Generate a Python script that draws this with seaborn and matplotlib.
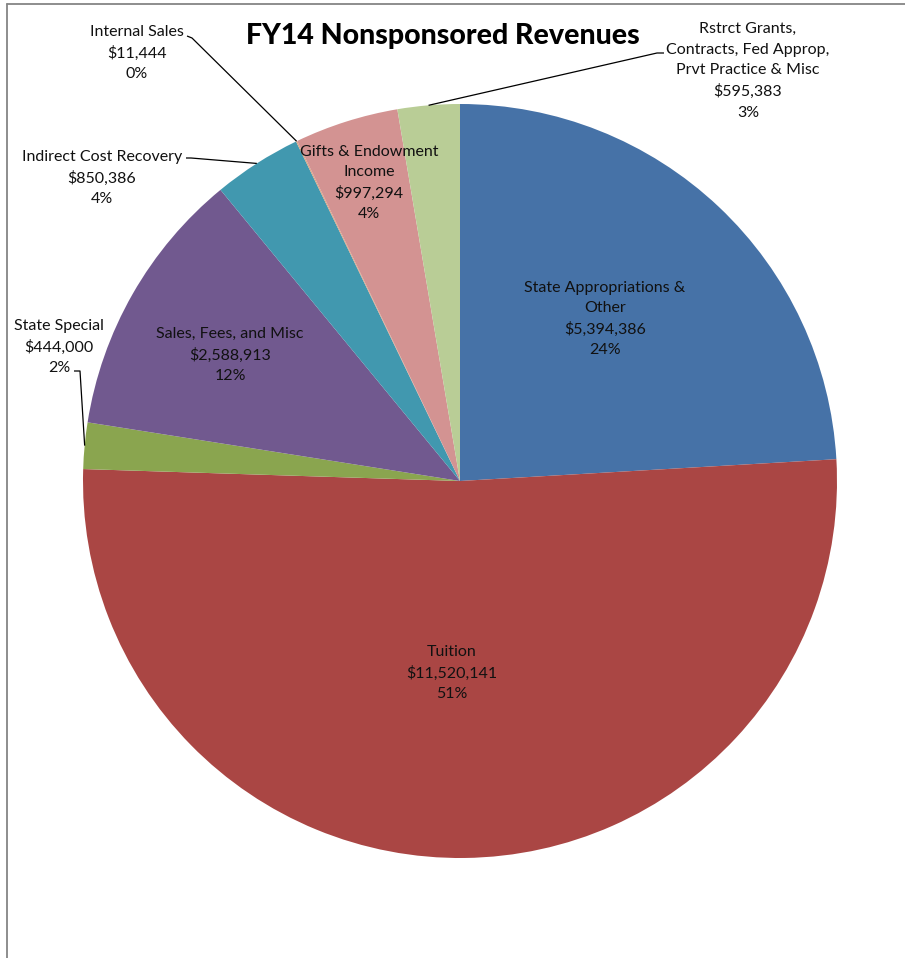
import matplotlib
matplotlib.use("Agg")
import matplotlib.pyplot as plt
import seaborn as sns
import numpy as np
from matplotlib.lines import Line2D

sns.set_theme(style="white")
plt.rcParams['font.family'] = ['Lato', 'DejaVu Sans']

# ---- data ----
categories = ["State Appropriations &\nOther", "Tuition", "State Special",
              "Sales, Fees, and Misc", "Indirect Cost Recovery", "Internal Sales",
              "Gifts & Endowment\nIncome",
              "Rstrct Grants,\nContracts, Fed Approp,\nPrvt Practice & Misc"]
values = [5394386, 11520141, 444000, 2588913, 850386, 11444, 997294, 595383]
pct_labels = ["24%", "51%", "2%", "12%", "4%", "0%", "4%", "3%"]
colors = ["#4672A7", "#AA4644", "#8AA54F", "#71598F", "#4198AF", "#D9A37F",
          "#D39392", "#B9CD96"]

# ---- layout (pixels in figure) ----
W, H = 905, 958
cx, cy, R = 460, 481, 377
fig = plt.figure(figsize=(W / 100, H / 100), dpi=100)
ax = fig.add_axes([(cx - R) / W, (H - cy - R) / H, 2 * R / W, 2 * R / H])

wedges, _ = ax.pie(values, colors=colors, startangle=90, counterclock=False,
                   radius=1.0, wedgeprops=dict(linewidth=0))
ax.set_xlim(-1, 1)
ax.set_ylim(-1, 1)
ax.set_aspect('equal')
ax.axis('off')

def px(x, y):
    return ((x - cx) / R, (cy - y) / R)

# label centres (pixel coords of block centre) and leader start points
label_pos = [(605, 319, None), (452, 673, None), (59, 347, (74, 371, 80, 371)),
             (230, 355, None), (102, 178, (186, 158, 191, 158)),
             (137, 53, (187, 36, 192, 38)), (369, 183, None),
             (748, 71, (664, 53, 657, 53))]

total = sum(values)
cum = 0
fs = 11.5
for i, (cat, v, p) in enumerate(zip(categories, values, pct_labels)):
    mid = 90 - 360 * (cum + v / 2) / total
    cum += v
    txt = f"{cat}\n${v:,.0f}\n{p}"
    lx, ly, lead = label_pos[i]
    tx, ty = px(lx, ly)
    ax.text(tx, ty, txt, ha='center', va='center', fontsize=fs,
            color='#111111', linespacing=1.58, clip_on=False)
    if lead is not None:
        ex, ey = np.cos(np.radians(mid)), np.sin(np.radians(mid))
        a = px(lead[0], lead[1])
        b = px(lead[2], lead[3])
        ax.plot([a[0], b[0], ex], [a[1], b[1], ey], color='black', lw=0.9,
                clip_on=False, solid_capstyle='butt')

fig.text(443 / W, 1 - 36 / H, "FY14 Nonsponsored Revenues", ha='center',
         va='center', fontsize=20.5, fontweight='black', color='black')

# chart-area frame (top and left edges visible)
fig.add_artist(Line2D([7 / W, 1.0], [1 - 4 / H, 1 - 4 / H],
                      transform=fig.transFigure, color='#858585', lw=1.3))
fig.add_artist(Line2D([7 / W, 7 / W], [0.0, 1 - 4 / H],
                      transform=fig.transFigure, color='#858585', lw=1.3))

fig.savefig("out.png", dpi=100)
